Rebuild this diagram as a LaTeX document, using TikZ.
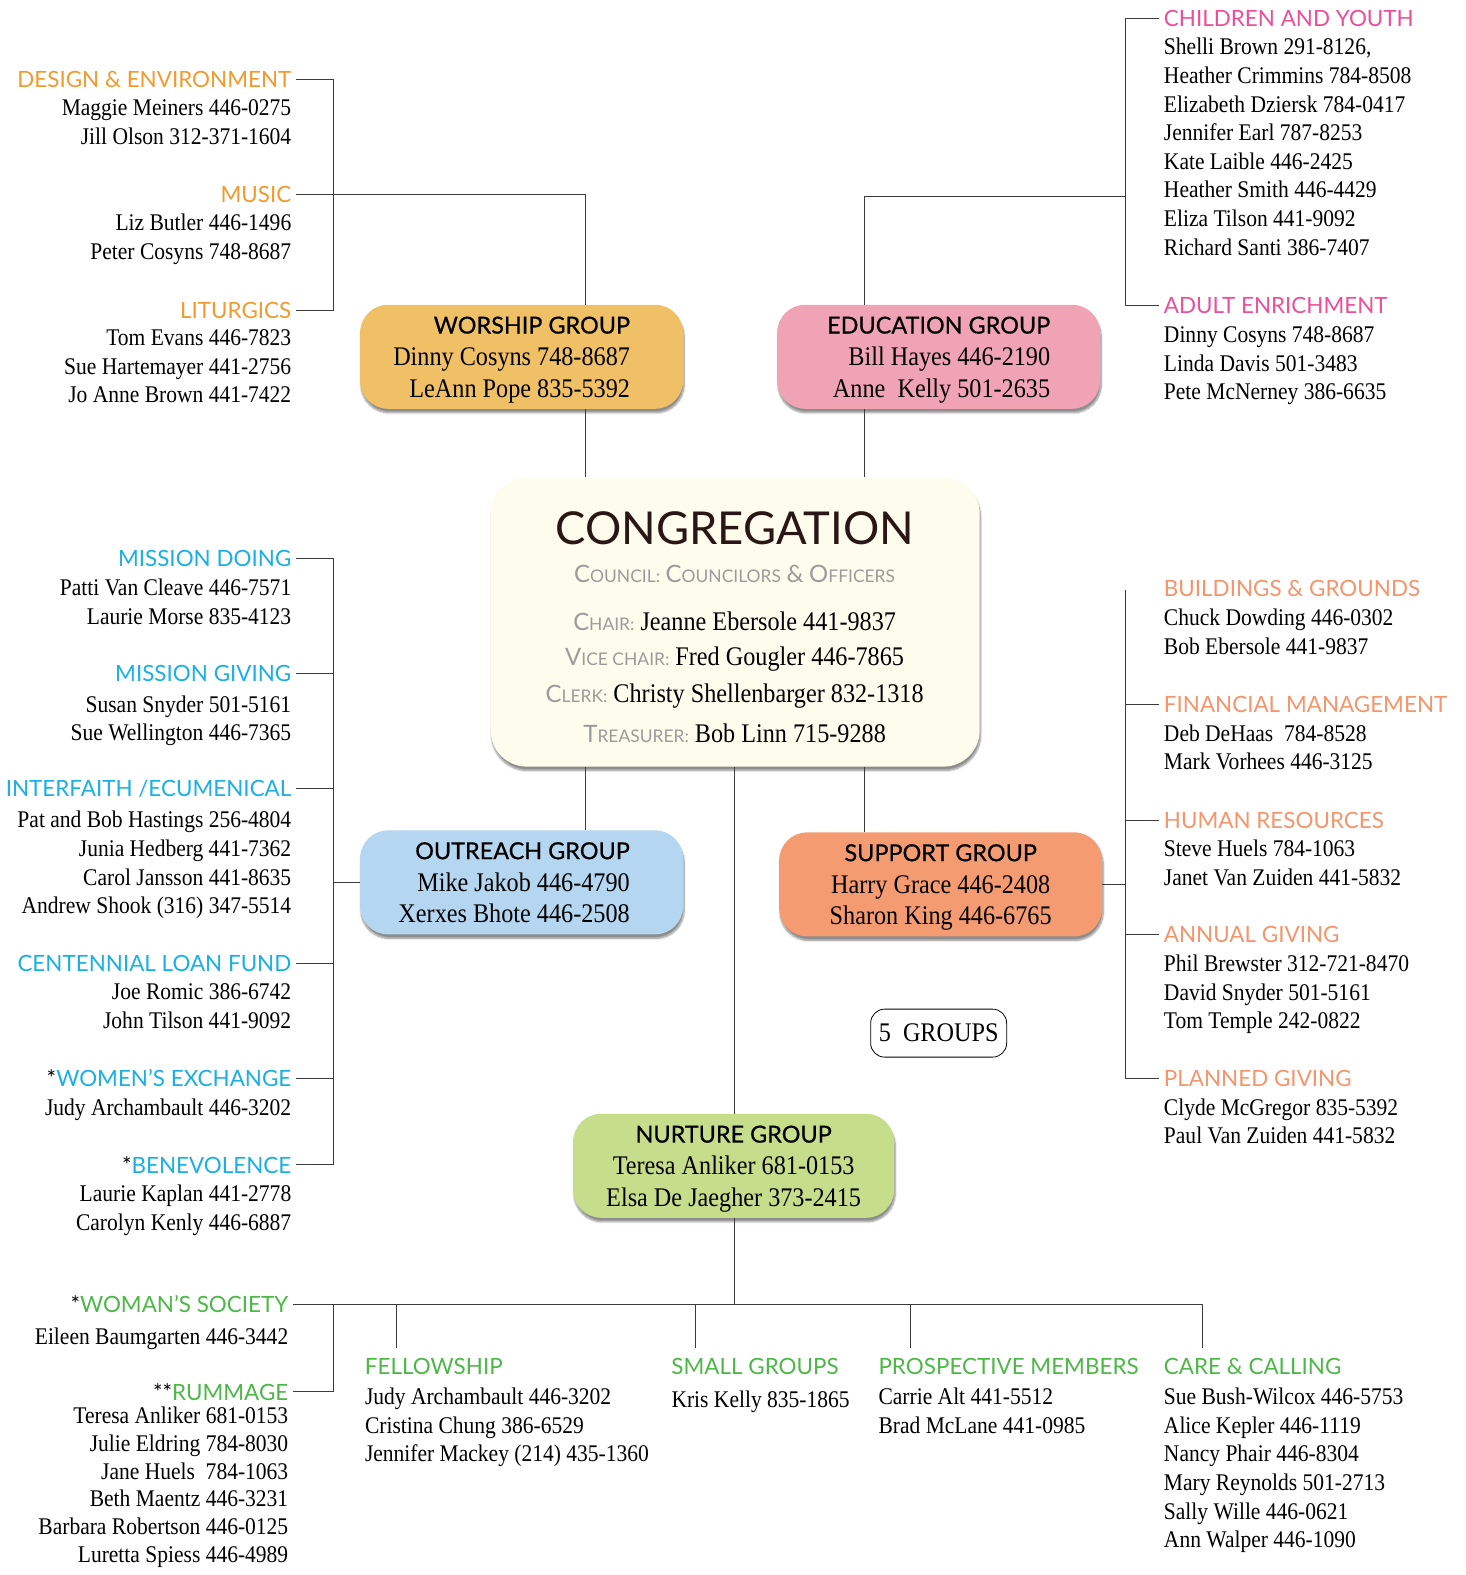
\documentclass[tikz,border=0pt]{standalone}
\usepackage{fontspec}
\setmainfont{Liberation Serif}[FakeStretch=0.9]
\newfontfamily\headfont{Lato}
\newfontfamily\boxfont{Lato}[FakeBold=0.6]
\usetikzlibrary{shadows,shadows.blur}
\definecolor{linec}{HTML}{3C3C3C}
\definecolor{worshipc}{HTML}{F29A2E}
\definecolor{educc}{HTML}{EC4F98}
\definecolor{outc}{HTML}{1AAFE5}
\definecolor{suppc}{HTML}{F4956B}
\definecolor{nurtc}{HTML}{4DB748}
\definecolor{worshipbg}{HTML}{EFC066}
\definecolor{educbg}{HTML}{F0A3B5}
\definecolor{outbg}{HTML}{B4D6F0}
\definecolor{suppbg}{HTML}{F59B72}
\definecolor{nurtbg}{HTML}{C6DD8B}
\definecolor{congbg}{HTML}{FEFCEC}
\definecolor{congc}{HTML}{2A1615}
\definecolor{greyc}{HTML}{9B9B9B}
\newcommand{\nm}{\fontsize{24}{28.7}\selectfont}
\newcommand{\gnm}{\fontsize{27}{32}\selectfont}
\newcommand{\hd}{\headfont\fontsize{22.5}{24}\selectfont}
\newcommand{\bhd}{\rule{0pt}{27pt}\boxfont\fontsize{23.5}{24}\selectfont}
\newcommand{\sct}[2]{{\headfont\fontsize{24}{24}\selectfont #1\fontsize{17.5}{17.5}\selectfont #2}}
\tikzstyle{conn} = [draw=linec, line width=1pt]
\tikzstyle{lhd}  = [anchor=east, inner xsep=5pt, inner ysep=10pt, font=\hd]
\tikzstyle{rhd}  = [anchor=west, inner xsep=5pt, inner ysep=10pt, font=\hd]
\tikzstyle{lpp}  = [anchor=north east, align=right, inner sep=0pt, font=\nm]
\tikzstyle{rpp}  = [anchor=north west, align=left, inner sep=0pt, font=\nm]
\tikzstyle{shd}  = [blur shadow={shadow blur steps=8, shadow blur extra rounding=4pt, shadow xshift=1pt, shadow yshift=-4pt, shadow opacity=45}]
\tikzstyle{grp}  = [shd, rounded corners=28bp, minimum width=323bp, minimum height=104bp, inner sep=0pt, font=\gnm]

\begin{document}
\begin{tikzpicture}[x=1.005bp, y=-1.005bp]
  \useasboundingbox (0,0) rectangle (1458.7,1567.2);

  % worship teams
  \node[lhd, text=worshipc](dsg)at(295, 79){DESIGN \& ENVIRONMENT};
  \node[lpp](dsgp)at(290, 99){Maggie Meiners 446-0275\\Jill Olson 312-371-1604};
  \node[lhd, text=worshipc](mus)at(295, 194){MUSIC};
  \node[lpp](musp)at(290, 213){Liz Butler 446-1496\\Peter Cosyns 748-8687};
  \node[lhd, text=worshipc](lit)at(295, 309){LITURGICS};
  \node[lpp](litp)at(290, 328){Tom Evans 446-7823\\Sue Hartemayer 441-2756\\Jo Anne Brown 441-7422};

  % education teams
  \node[rhd, text=educc](chy)at(1153, 18){CHILDREN AND YOUTH};
  \node[rpp](chyp)at(1158, 38){Shelli Brown 291-8126,\\Heather Crimmins 784-8508\\Elizabeth Dziersk 784-0417\\Jennifer Earl 787-8253\\Kate Laible 446-2425\\Heather Smith 446-4429\\Eliza Tilson 441-9092\\Richard Santi 386-7407};
  \node[rhd, text=educc](adu)at(1153, 304){ADULT ENRICHMENT};
  \node[rpp](adup)at(1158, 325){Dinny Cosyns 748-8687\\Linda Davis 501-3483\\Pete McNerney 386-6635};

  % groups
  \node[grp, fill=worshipbg](worship)at(519, 355){\begin{tabular}{@{}r@{}}\bhd WORSHIP GROUP\\Dinny Cosyns 748-8687\\LeAnn Pope 835-5392\end{tabular}\hspace*{20pt}};
  \node[grp, fill=educbg](education)at(934, 355){\begin{tabular}{@{}r@{}}\bhd EDUCATION GROUP\\Bill Hayes 446-2190\\Anne\ \ Kelly 501-2635\end{tabular}};
  \node[grp, fill=outbg](outreach)at(519, 878){\begin{tabular}{@{}r@{}}\bhd OUTREACH GROUP\\Mike Jakob 446-4790\\Xerxes Bhote 446-2508\end{tabular}\hspace*{15pt}};
  \node[grp, fill=suppbg](support)at(936, 880){\begin{tabular}{@{}c@{}}\bhd SUPPORT GROUP\\Harry Grace 446-2408\\Sharon King 446-6765\end{tabular}};
  \node[grp, fill=nurtbg, minimum width=321bp](nurture)at(730, 1160){\begin{tabular}{@{}c@{}}\bhd NURTURE GROUP\\Teresa Anliker 681-0153\\Elsa De Jaegher 373-2415\end{tabular}};

  % congregation
  \node[shd, rounded corners=36bp, fill=congbg, minimum width=489bp, minimum height=289bp](cong)at(731.5, 619){};
  \node[text=congc, font=\headfont\fontsize{45.5}{46}\selectfont](congt)at(731, 526){CONGREGATION};
  \node[text=greyc, font=\headfont\fontsize{22}{22}\selectfont](council)at(731, 571){\sct{C}{OUNCIL:} \sct{C}{OUNCILORS} {\fontsize{24}{24}\selectfont\&} \sct{O}{FFICERS}};
  \node[font=\gnm](chair)at(731, 618){{\color{greyc}\sct{C}{HAIR:}} Jeanne Ebersole 441-9837};
  \node[font=\gnm](vice)at(731, 656){{\color{greyc}\sct{V}{ICE CHAIR:}} Fred Gougler 446-7865};
  \node[font=\gnm](clerk)at(731, 693){{\color{greyc}\sct{C}{LERK:}} Christy Shellenbarger 832-1318};
  \node[font=\gnm](treas)at(731, 730){{\color{greyc}\sct{T}{REASURER:}} Bob Linn 715-9288};

  % outreach teams
  \node[lhd, text=outc](mdo)at(295, 556){MISSION DOING};
  \node[lpp](mdop)at(290, 576){Patti Van Cleave 446-7571\\Laurie Morse 835-4123};
  \node[lhd, text=outc](mgv)at(295, 670){MISSION GIVING};
  \node[lpp](mgvp)at(290, 692){Susan Snyder 501-5161\\Sue Wellington 446-7365};
  \node[lhd, text=outc](itf)at(295, 785){INTERFAITH /ECUMENICAL};
  \node[lpp](itfp)at(290, 807){Pat and Bob Hastings 256-4804\\Junia Hedberg 441-7362\\Carol Jansson 441-8635\\Andrew Shook (316) 347-5514};
  \node[lhd, text=outc](cen)at(295, 959){CENTENNIAL LOAN FUND};
  \node[lpp](cenp)at(290, 979){Joe Romic 386-6742\\John Tilson 441-9092};
  \node[lhd, text=outc](wex)at(295, 1073){{\color{black}*}WOMEN’S EXCHANGE};
  \node[lpp](wexp)at(290, 1093){Judy Archambault 446-3202};
  \node[lhd, text=outc](ben)at(295, 1159){{\color{black}*}BENEVOLENCE};
  \node[lpp](benp)at(290, 1179){Laurie Kaplan 441-2778\\Carolyn Kenly 446-6887};

  % support teams
  \node[rhd, text=suppc](bld)at(1153, 586){BUILDINGS \& GROUNDS};
  \node[rpp](bldp)at(1158, 606){Chuck Dowding 446-0302\\Bob Ebersole 441-9837};
  \node[rhd, text=suppc](fin)at(1153, 701){FINANCIAL MANAGEMENT};
  \node[rpp](finp)at(1158, 721){Deb DeHaas\ \ 784-8528\\Mark Vorhees 446-3125};
  \node[rhd, text=suppc](hum)at(1153, 816){HUMAN RESOURCES};
  \node[rpp](hump)at(1158, 836){Steve Huels 784-1063\\Janet Van Zuiden 441-5832};
  \node[rhd, text=suppc](ann)at(1153, 930){ANNUAL GIVING};
  \node[rpp](annp)at(1158, 950){Phil Brewster 312-721-8470\\David Snyder 501-5161\\Tom Temple 242-0822};
  \node[rhd, text=suppc](pln)at(1153, 1073){PLANNED GIVING};
  \node[rpp](plnp)at(1158, 1093){Clyde McGregor 835-5392\\Paul Van Zuiden 441-5832};

  \node[draw=black, line width=0.8pt, rounded corners=14bp, minimum width=136bp, minimum height=48bp, font=\gnm](five)at(934, 1028){5\ \ GROUPS};

  % nurture teams
  \node[lhd, text=nurtc](soc)at(292, 1298){{\color{black}*}WOMAN’S SOCIETY};
  \node[lpp](socp)at(287, 1321){Eileen Baumgarten 446-3442};
  \node[lhd, text=nurtc](rum)at(292, 1385){{\color{black}**}RUMMAGE};
  \node[lpp, font=\fontsize{24}{27.8}\selectfont](rump)at(287, 1400){Teresa Anliker 681-0153\\Julie Eldring 784-8030\\Jane Huels\ \ 784-1063\\Beth Maentz 446-3231\\Barbara Robertson 446-0125\\Luretta Spiess 446-4989};
  \node[rhd, text=nurtc](fel)at(358, 1360){FELLOWSHIP};
  \node[rpp](felp)at(363, 1381){Judy Archambault 446-3202\\Cristina Chung 386-6529\\Jennifer Mackey (214) 435-1360};
  \node[rhd, text=nurtc](sgr)at(663, 1360){SMALL GROUPS};
  \node[rpp](sgrp)at(668, 1384){Kris Kelly 835-1865};
  \node[rhd, text=nurtc](pro)at(869, 1360){PROSPECTIVE MEMBERS};
  \node[rpp](prop)at(874, 1381){Carrie Alt 441-5512\\Brad McLane 441-0985};
  \node[rhd, text=nurtc](cc)at(1153, 1360){CARE \& CALLING};
  \node[rpp](ccp)at(1158, 1381){Sue Bush-Wilcox 446-5753\\Alice Kepler 446-1119\\Nancy Phair 446-8304\\Mary Reynolds 501-2713\\Sally Wille 446-0621\\Ann Walper 446-1090};

  % connectors
  \coordinate (wbus) at (332, 0);
  \coordinate (ebus) at (1120, 0);
  \coordinate (ejn) at (1120, 196);
  \coordinate (xa) at (583, 0);
  \coordinate (xb) at (860, 0);
  \coordinate (xc) at (731, 0);
  \coordinate (sbus) at (1120, 587);
  \coordinate (njn) at (731, 1298);
  \coordinate (nend) at (1197, 1298);
  \coordinate (fx) at (395, 1298);
  \coordinate (sx) at (692, 1298);
  \coordinate (px) at (906, 1298);

  \draw[conn] (dsg.east) -- (dsg.east -| wbus) -- (lit.east -| wbus) -- (lit.east);
  \draw[conn] (mus.east) -- (mus.east -| xa) -- (worship.north -| xa);
  \draw[conn] (chy.west) -- (chy.west -| ebus) -- (adu.west -| ebus) -- (adu.west);
  \draw[conn] (ejn) -- (ejn -| xb) -- (education.north -| xb);
  \draw[conn] (worship.south -| xa) -- (cong.north -| xa);
  \draw[conn] (education.south -| xb) -- (cong.north -| xb);
  \draw[conn] (cong.south -| xa) -- (outreach.north -| xa);
  \draw[conn] (cong.south -| xb) -- (support.north -| xb);
  \draw[conn] (cong.south -| xc) -- (nurture.north -| xc);

  \draw[conn] (mdo.east) -- (mdo.east -| wbus) -- (ben.east -| wbus) -- (ben.east);
  \foreach \n in {mgv,itf,cen,wex}
    \draw[conn] (\n.east) -- (\n.east -| wbus);
  \draw[conn] (outreach.west) -- (outreach.west -| wbus);

  \draw[conn] (sbus) -- (pln.west -| sbus) -- (pln.west);
  \foreach \n in {fin,hum,ann}
    \draw[conn] (\n.west) -- (\n.west -| sbus);
  \draw[conn] (support.east) -- (support.east -| sbus);

  \draw[conn] (nurture.south -| njn) -- (njn);
  \draw[conn] (soc.east) -- (nend) -- (nend |- cc.north);
  \draw[conn] (soc.east -| wbus) -- (rum.east -| wbus) -- (rum.east);
  \foreach \n/\c in {fel/fx,sgr/sx,pro/px}
    \draw[conn] (\c) -- (\c |- \n.north);
\end{tikzpicture}
\end{document}
